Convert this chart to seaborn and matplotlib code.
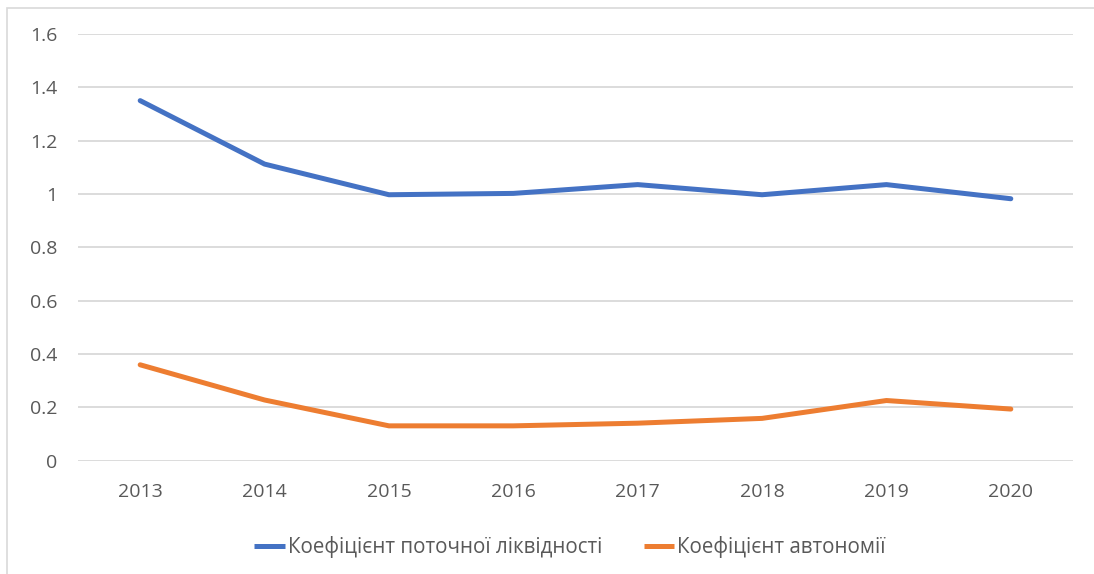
import matplotlib
matplotlib.use("Agg")
import matplotlib.pyplot as plt
from matplotlib.patches import Rectangle
import pandas as pd
import seaborn as sns

years = ["2013", "2014", "2015", "2016", "2017", "2018", "2019", "2020"]
liquidity = [1.35, 1.112, 0.997, 1.002, 1.035, 0.997, 1.035, 0.982]
autonomy = [0.359, 0.227, 0.130, 0.130, 0.140, 0.158, 0.225, 0.193]
series_names = ["Коефіцієнт поточної ліквідності", "Коефіцієнт автономії"]
y_ticks = [0, 0.2, 0.4, 0.6, 0.8, 1.0, 1.2, 1.4, 1.6]
y_tick_labels = ["0", "0.2", "0.4", "0.6", "0.8", "1", "1.2", "1.4", "1.6"]

df = pd.DataFrame({
    "year": years * 2,
    "value": liquidity + autonomy,
    "series": [series_names[0]] * len(years) + [series_names[1]] * len(years),
})

sns.set_theme(style="white")
plt.rcParams["font.family"] = ["Open Sans", "DejaVu Sans"]

fig = plt.figure(figsize=(10.94, 5.74), dpi=100)
W, H = 1094, 574
ax = fig.add_axes([78 / W, 1 - 460.5 / H, (1073 - 78) / W, (460.5 - 34) / H])

palette = {series_names[0]: "#4472C4", series_names[1]: "#ED7D31"}
sns.lineplot(data=df, x="year", y="value", hue="series", palette=palette,
             linewidth=3.6, ax=ax, sort=False, legend=True)

ax.set_xlim(-0.5, len(years) - 0.5)
ax.set_ylim(0, 1.6)
ax.set_yticks(y_ticks)
ax.set_yticklabels(y_tick_labels)
ax.set_xlabel("")
ax.set_ylabel("")
ax.grid(axis="y", color="#D9D9D9", linewidth=1.3)
ax.grid(axis="x", visible=False)
ax.set_axisbelow(True)
for s in ax.spines.values():
    s.set_visible(False)
ax.tick_params(axis="both", length=0, labelsize=14, labelcolor="#595959")
ax.tick_params(axis="y", pad=15)
ax.tick_params(axis="x", pad=16)

handles, labels = ax.get_legend_handles_labels()
for h in handles:
    h.set_solid_capstyle("butt")
ax.legend(handles, labels, loc="center", bbox_to_anchor=(570 / W, 1 - 547 / H),
          bbox_transform=fig.transFigure, ncol=2, frameon=False,
          fontsize=14.8, labelcolor="#595959", handlelength=1.5,
          handletextpad=0.15, columnspacing=2.0)

fig.add_artist(Rectangle((7 / W, -0.1), 1.2, 1 - 8 / H + 0.1,
                         transform=fig.transFigure, fill=False,
                         edgecolor="#D9D9D9", linewidth=1.2))

fig.savefig("out.png", dpi=100, facecolor="white")
